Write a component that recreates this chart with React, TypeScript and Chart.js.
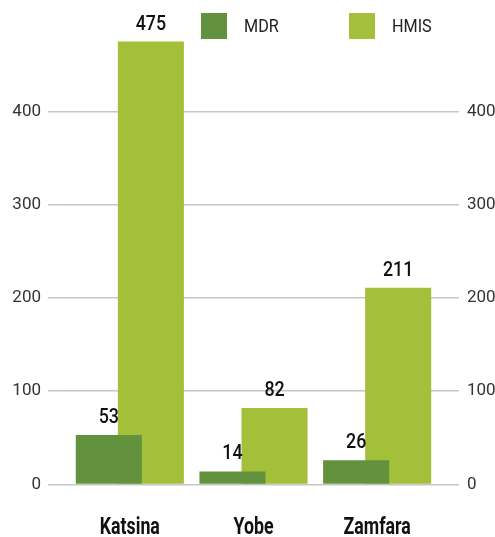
import React, { useEffect, useRef } from "react";
import { Chart, registerables } from "chart.js";

Chart.register(...registerables);

const categories = ["Katsina", "Yobe", "Zamfara"];
const mdrValues = [53, 14, 26];
const hmisValues = [475, 82, 211];
const seriesNames = ["MDR", "HMIS"];
const seriesColors = ["#62923e", "#a4c03a"];
const yTicks = [0, 100, 200, 300, 400];

const NUM_FONT = "Roboto, 'DejaVu Sans', sans-serif";

function drawScaled(ctx: any, text: string, x: number, y: number, sx: number) {
  ctx.save();
  ctx.translate(x, y);
  ctx.scale(sx, 1);
  ctx.fillText(text, 0, 0);
  ctx.restore();
}

const valueLabelPlugin = {
  id: "valueLabels",
  afterDatasetsDraw(chart: any) {
    const ctx = chart.ctx;
    ctx.save();
    ctx.font = `500 21px ${NUM_FONT}`;
    ctx.fillStyle = "#111";
    ctx.textAlign = "center";
    ctx.textBaseline = "alphabetic";
    chart.data.datasets.forEach((ds: any, i: number) => {
      const meta = chart.getDatasetMeta(i);
      meta.data.forEach((bar: any, j: number) => {
        drawScaled(ctx, String(ds.data[j]), bar.x, bar.y - 12, 0.85);
      });
    });
    ctx.restore();
  },
};

const categoryLabelPlugin = {
  id: "condensedCategories",
  afterDraw(chart: any) {
    const ctx = chart.ctx;
    const xs = chart.scales.x;
    ctx.save();
    ctx.font = `bold 24px ${NUM_FONT}`;
    ctx.fillStyle = "#111";
    ctx.textAlign = "center";
    ctx.textBaseline = "alphabetic";
    chart.data.labels.forEach((lab: string, i: number) => {
      drawScaled(ctx, lab, xs.getPixelForValue(i), 534, 0.74);
    });
    ctx.restore();
  },
};

const legendPlugin = {
  id: "overlayLegend",
  afterDraw(chart: any) {
    const ctx = chart.ctx;
    ctx.save();
    const startX = 201;
    const step = 148;
    const boxY = 13;
    const box = 26;
    ctx.font = `400 18px ${NUM_FONT}`;
    ctx.textBaseline = "middle";
    ctx.textAlign = "left";
    chart.data.datasets.forEach((ds: any, i: number) => {
      const x = startX + i * step;
      ctx.fillStyle = ds.backgroundColor;
      ctx.fillRect(x, boxY, box, box);
      ctx.fillStyle = "#222";
      drawScaled(ctx, ds.label, x + 43, boxY + box / 2 + 1, 0.9);
    });
    ctx.restore();
  },
};

export default function App() {
  const ref = useRef<HTMLCanvasElement>(null);
  useEffect(() => {
    document.body.style.margin = "0";
    const filterTicks = (scale: any) => {
      scale.ticks = scale.ticks.filter((t: any) => yTicks.includes(t.value));
    };
    const chart = new Chart(ref.current!, {
      type: "bar",
      data: {
        labels: categories,
        datasets: [
          { label: seriesNames[0], data: mdrValues, backgroundColor: seriesColors[0], yAxisID: "y" },
          { label: seriesNames[1], data: hmisValues, backgroundColor: seriesColors[1], yAxisID: "y" },
        ],
      },
      options: {
        responsive: false,
        animation: false,
        layout: { padding: { top: 15, left: 0, right: 0, bottom: 0 } },
        datasets: { bar: { categoryPercentage: 0.68, barPercentage: 1.571 } },
        plugins: { legend: { display: false }, tooltip: { enabled: false } },
        scales: {
          x: {
            grid: { display: false },
            border: { display: false },
            ticks: { display: false },
            afterFit: (s: any) => { s.height = 52.5; },
          },
          y: {
            position: "left",
            min: 0,
            max: 500,
            afterBuildTicks: filterTicks,
            grid: { color: "#c6c6c6", lineWidth: 1.5, tickLength: 20, tickColor: "#c6c6c6" },
            border: { display: false },
            ticks: { stepSize: 100, padding: 7, color: "#333", font: { family: NUM_FONT, size: 17 } },
            afterFit: (s: any) => { s.width = 68; },
          },
          y1: {
            position: "right",
            min: 0,
            max: 500,
            afterBuildTicks: filterTicks,
            grid: { drawOnChartArea: false, color: "#c6c6c6", lineWidth: 1.5, tickLength: 20, tickColor: "#c6c6c6" },
            border: { display: false },
            ticks: { stepSize: 100, padding: 8, color: "#333", font: { family: NUM_FONT, size: 17 } },
            afterFit: (s: any) => { s.width = 56; },
          },
        },
      },
      plugins: [valueLabelPlugin, categoryLabelPlugin, legendPlugin],
    } as any);
    return () => chart.destroy();
  }, []);
  return (
    <div style={{ width: 495, height: 537 }}>
      <canvas ref={ref} width={495} height={537} />
    </div>
  );
}
